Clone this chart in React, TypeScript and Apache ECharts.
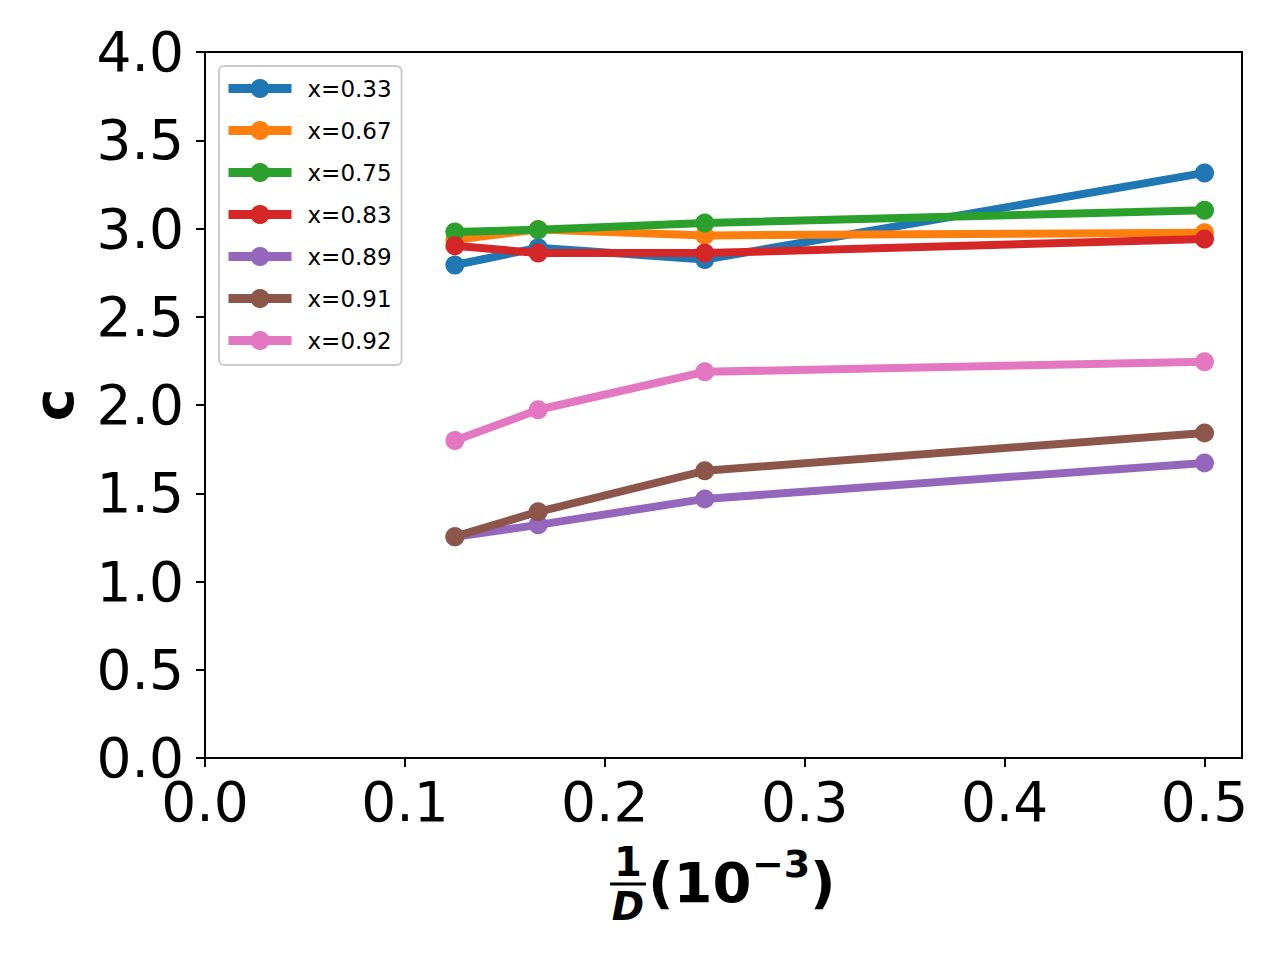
import React, { useEffect, useRef } from "react";
import * as echarts from "echarts";

const invD = [0.125, 1 / 6, 0.25, 0.5];
const seriesNames = ["x=0.33", "x=0.67", "x=0.75", "x=0.83", "x=0.89", "x=0.91", "x=0.92"];
const c033 = [2.793, 2.891, 2.824, 3.315];
const c067 = [2.936, 2.995, 2.961, 2.976];
const c075 = [2.98, 2.993, 3.031, 3.103];
const c083 = [2.902, 2.861, 2.861, 2.94];
const c089 = [1.253, 1.321, 1.468, 1.672];
const c091 = [1.254, 1.395, 1.627, 1.842];
const c092 = [1.799, 1.973, 2.188, 2.245];
const seriesValues = [c033, c067, c075, c083, c089, c091, c092];
const colors = ["#1f77b4", "#ff7f0e", "#2ca02c", "#d62728", "#9467bd", "#8c564b", "#e377c2"];
const xTicks = [0, 0.1, 0.2, 0.3, 0.4, 0.5];
const yTicks = [0, 0.5, 1, 1.5, 2, 2.5, 3, 3.5, 4];

const FONT = "DejaVu Sans";

export default function App() {
  const ref = useRef<HTMLDivElement>(null);
  useEffect(() => {
    document.body.style.margin = "0";
    const chart = echarts.init(ref.current!, null, { renderer: "svg" });
    const onTick = (v: number, ticks: number[]) =>
      ticks.some((t) => Math.abs(t - v) < 1e-9) ? v.toFixed(1) : "";
    chart.setOption({
      animation: false,
      backgroundColor: "#fff",
      grid: {
        left: 205,
        top: 52,
        right: 38,
        bottom: 202,
        show: true,
        borderColor: "#000",
        borderWidth: 2,
        containLabel: false,
      },
      xAxis: {
        type: "value",
        min: 0,
        max: 0.51875,
        interval: 0.1,
        axisLine: { show: true, onZero: false, lineStyle: { color: "#000", width: 2 } },
        axisTick: { show: true, length: 9, lineStyle: { color: "#000", width: 2 }, customValues: xTicks },
        axisLabel: {
          color: "#000",
          fontSize: 55,
          fontFamily: FONT,
          margin: 16,
          customValues: xTicks,
          formatter: (v: number) => onTick(v, xTicks),
        },
        splitLine: { show: false },
      },
      yAxis: {
        type: "value",
        min: 0,
        max: 4,
        interval: 0.5,
        axisLine: { show: true, onZero: false, lineStyle: { color: "#000", width: 2 } },
        axisTick: { show: true, length: 9, lineStyle: { color: "#000", width: 2 } },
        axisLabel: {
          color: "#000",
          fontSize: 55,
          fontFamily: FONT,
          margin: 21,
          formatter: (v: number) => onTick(v, yTicks),
        },
        splitLine: { show: false },
      },
      legend: {
        show: true,
        orient: "vertical",
        left: 219,
        top: 66,
        data: seriesNames,
        itemWidth: 63,
        itemHeight: 24,
        itemGap: 19,
        padding: [11, 10, 13, 5],
        backgroundColor: "rgba(255,255,255,0.8)",
        borderColor: "#cccccc",
        borderWidth: 2,
        borderRadius: 5,
        lineStyle: { width: 9 },
        textStyle: { fontSize: 23, fontFamily: FONT, color: "#000", padding: [0, 0, 0, 11] },
      },
      series: seriesValues.map((vals, i) => ({
        name: seriesNames[i],
        type: "line",
        data: invD.map((x, j) => [x, vals[j]]),
        symbol: "circle",
        symbolSize: 19,
        showSymbol: true,
        color: colors[i],
        itemStyle: { color: colors[i] },
        lineStyle: { color: colors[i], width: 8 },
        emphasis: { disabled: true },
        z: 2 + i * 0.01,
      })),
      graphic: [
        {
          type: "text",
          x: 54,
          y: 405,
          rotation: Math.PI / 2,
          style: { text: "c", fontSize: 55, fontWeight: "bold", fontFamily: FONT, fill: "#000", align: "center", verticalAlign: "middle" },
        },
        {
          type: "text",
          x: 628,
          y: 862,
          style: { text: "1", fontSize: 40, fontWeight: "bold", fontFamily: FONT, fill: "#000", align: "center", verticalAlign: "middle" },
        },
        {
          type: "line",
          shape: { x1: 610, y1: 884, x2: 646, y2: 884 },
          style: { stroke: "#000", lineWidth: 3 },
        },
        {
          type: "text",
          x: 628,
          y: 906,
          style: { text: "D", fontSize: 39, fontWeight: "bold", fontStyle: "italic", fontFamily: FONT, fill: "#000", align: "center", verticalAlign: "middle" },
        },
        {
          type: "text",
          x: 648,
          y: 882,
          style: { text: "(10", fontSize: 56, fontWeight: "bold", fontFamily: FONT, fill: "#000", align: "left", verticalAlign: "middle" },
        },
        {
          type: "text",
          x: 752,
          y: 864,
          style: { text: "\u22123", fontSize: 38, fontWeight: "bold", fontFamily: FONT, fill: "#000", align: "left", verticalAlign: "middle" },
        },
        {
          type: "text",
          x: 810,
          y: 882,
          style: { text: ")", fontSize: 56, fontWeight: "bold", fontFamily: FONT, fill: "#000", align: "left", verticalAlign: "middle" },
        },
      ],
    });
    return () => chart.dispose();
  }, []);
  return <div ref={ref} style={{ width: 1280, height: 960 }} />;
}
